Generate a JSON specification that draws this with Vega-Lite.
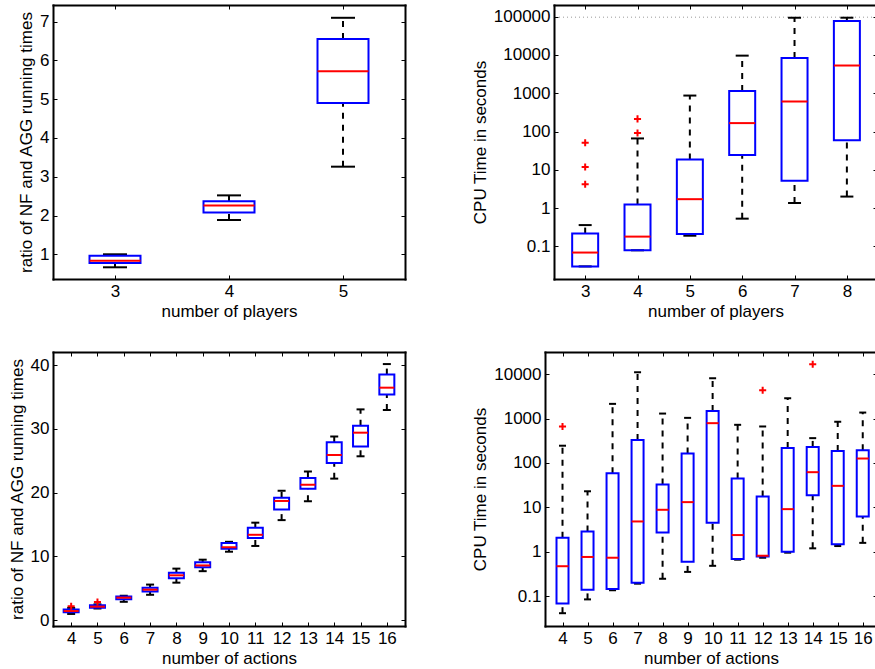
{
  "$schema": "https://vega.github.io/schema/vega-lite/v6.json",
  "padding": {"left": 8, "top": 4, "right": 0, "bottom": 0},
  "background": "white",
  "columns": 2,
  "spacing": {"row": 73, "column": 140},
  "bounds": "flush",
  "datasets": {
    "p1": [
      {"x": 3, "low": 0.665, "q1": 0.775, "med": 0.835, "q3": 0.96, "high": 1.0},
      {"x": 4, "low": 1.885, "q1": 2.08, "med": 2.26, "q3": 2.37, "high": 2.52},
      {"x": 5, "low": 3.26, "q1": 4.9, "med": 5.72, "q3": 6.55, "high": 7.1}
    ],
    "p2": [
      {"x": 3, "low": 0.030, "q1": 0.030, "med": 0.069, "q3": 0.216, "high": 0.36},
      {"x": 4, "low": 0.079, "q1": 0.079, "med": 0.18, "q3": 1.25, "high": 66},
      {"x": 5, "low": 0.19, "q1": 0.21, "med": 1.71, "q3": 18.6, "high": 870},
      {"x": 6, "low": 0.53, "q1": 24.5, "med": 166, "q3": 1150, "high": 9600},
      {"x": 7, "low": 1.35, "q1": 5.2, "med": 610, "q3": 8300, "high": 94000},
      {"x": 8, "low": 2.0, "q1": 59, "med": 5300, "q3": 77000, "high": 94000}
    ],
    "p2o": [
      {"x": 3, "v": 51}, {"x": 3, "v": 11.8}, {"x": 3, "v": 4.2},
      {"x": 4, "v": 214}, {"x": 4, "v": 92}
    ],
    "p2limit": [{"x0": 2.5, "x1": 8.48, "limit": 97000}],
    "p3": [
      {"x": 4, "low": 1.0, "q1": 1.25, "med": 1.45, "q3": 1.7, "high": 1.95},
      {"x": 5, "low": 1.85, "q1": 1.95, "med": 2.14, "q3": 2.35, "high": 2.5},
      {"x": 6, "low": 2.9, "q1": 3.3, "med": 3.55, "q3": 3.75, "high": 3.85},
      {"x": 7, "low": 4.0, "q1": 4.5, "med": 4.8, "q3": 5.1, "high": 5.6},
      {"x": 8, "low": 5.9, "q1": 6.6, "med": 7.05, "q3": 7.45, "high": 8.1},
      {"x": 9, "low": 7.7, "q1": 8.3, "med": 8.6, "q3": 9.1, "high": 9.5},
      {"x": 10, "low": 10.75, "q1": 11.2, "med": 11.45, "q3": 12.1, "high": 12.3},
      {"x": 11, "low": 11.65, "q1": 12.9, "med": 13.4, "q3": 14.5, "high": 15.3},
      {"x": 12, "low": 15.7, "q1": 17.35, "med": 18.7, "q3": 19.2, "high": 20.3},
      {"x": 13, "low": 18.65, "q1": 20.6, "med": 21.25, "q3": 22.3, "high": 23.3},
      {"x": 14, "low": 22.2, "q1": 24.65, "med": 25.9, "q3": 27.9, "high": 28.8},
      {"x": 15, "low": 25.7, "q1": 27.25, "med": 29.4, "q3": 30.5, "high": 33.05},
      {"x": 16, "low": 32.95, "q1": 35.4, "med": 36.45, "q3": 38.5, "high": 40.15}
    ],
    "p3o": [{"x": 4, "v": 2.2}, {"x": 5, "v": 2.87}],
    "p4": [
      {"x": 4, "low": 0.041, "q1": 0.068, "med": 0.47, "q3": 2.06, "high": 245},
      {"x": 5, "low": 0.084, "q1": 0.139, "med": 0.76, "q3": 2.86, "high": 23},
      {"x": 6, "low": 0.135, "q1": 0.144, "med": 0.73, "q3": 59, "high": 2150},
      {"x": 7, "low": 0.19, "q1": 0.2, "med": 4.8, "q3": 330, "high": 11100},
      {"x": 8, "low": 0.245, "q1": 2.7, "med": 8.8, "q3": 32.5, "high": 1300},
      {"x": 9, "low": 0.35, "q1": 0.59, "med": 13.1, "q3": 163, "high": 1040},
      {"x": 10, "low": 0.48, "q1": 4.47, "med": 790, "q3": 1490, "high": 8130},
      {"x": 11, "low": 0.66, "q1": 0.68, "med": 2.37, "q3": 44.6, "high": 725},
      {"x": 12, "low": 0.73, "q1": 0.78, "med": 0.81, "q3": 17.6, "high": 665},
      {"x": 13, "low": 0.95, "q1": 1.0, "med": 9.1, "q3": 218, "high": 2880},
      {"x": 14, "low": 1.19, "q1": 18.8, "med": 62, "q3": 230, "high": 363},
      {"x": 15, "low": 1.34, "q1": 1.48, "med": 30.5, "q3": 186, "high": 850},
      {"x": 16, "low": 1.58, "q1": 6.2, "med": 126, "q3": 194, "high": 1370}
    ],
    "p4o": [{"x": 4, "v": 665}, {"x": 12, "v": 4360}, {"x": 14, "v": 16800}]
  },
  "concat": [
    {
      "width": 352, "height": 274,
      "data": {"name": "p1"},
      "layer": [
        {"mark": {"type": "rule", "color": "black", "strokeWidth": 2, "strokeDash": [6, 6]},
         "encoding": {
           "x": {"field": "x", "type": "quantitative", "scale": {"domain": [2.5, 5.5], "nice": false, "zero": false},
                 "axis": {"orient": "bottom", "values": [3, 4, 5], "format": "d", "title": "number of players"}},
           "y": {"field": "low", "type": "quantitative", "scale": {"domain": [0.363, 7.43], "nice": false, "zero": false},
                 "axis": {"orient": "left", "values": [1, 2, 3, 4, 5, 6, 7], "format": "d", "title": "ratio of NF and AGG running times"}},
           "y2": {"field": "q1"}}},
        {"mark": {"type": "rule", "color": "black", "strokeWidth": 2, "strokeDash": [6, 6]},
         "encoding": {
           "x": {"field": "x", "type": "quantitative", "axis": {"orient": "top", "values": [3, 4, 5], "labels": false, "title": null}},
           "y": {"field": "q3", "type": "quantitative", "axis": {"orient": "right", "values": [1, 2, 3, 4, 5, 6, 7], "labels": false, "title": null}},
           "y2": {"field": "high"}}},
        {"mark": {"type": "tick", "orient": "horizontal", "color": "black", "thickness": 2, "size": 24, "opacity": 1},
         "encoding": {"x": {"field": "x", "type": "quantitative", "axis": null}, "y": {"field": "low", "type": "quantitative", "axis": null}}},
        {"mark": {"type": "tick", "orient": "horizontal", "color": "black", "thickness": 2, "size": 24, "opacity": 1},
         "encoding": {"x": {"field": "x", "type": "quantitative", "axis": null}, "y": {"field": "high", "type": "quantitative", "axis": null}}},
        {"mark": {"type": "bar", "filled": false, "color": "#0000ff", "strokeWidth": 2, "size": 51},
         "encoding": {"x": {"field": "x", "type": "quantitative", "axis": null}, "y": {"field": "q1", "type": "quantitative", "axis": null}, "y2": {"field": "q3"}}},
        {"mark": {"type": "tick", "orient": "horizontal", "color": "#ff0000", "thickness": 2, "size": 51, "opacity": 1},
         "encoding": {"x": {"field": "x", "type": "quantitative", "axis": null}, "y": {"field": "med", "type": "quantitative", "axis": null}}}
      ]
    },
    {
      "width": 332, "height": 274,
      "data": {"name": "p2"},
      "layer": [
        {"data": {"name": "p2limit"},
         "mark": {"type": "rule", "color": "#999999", "strokeWidth": 1, "strokeDash": [1, 3]},
         "encoding": {
           "x": {"field": "x0", "type": "quantitative", "axis": null},
           "x2": {"field": "x1"},
           "y": {"field": "limit", "type": "quantitative", "axis": null}}},
        {"mark": {"type": "rule", "color": "black", "strokeWidth": 2, "strokeDash": [6, 6]},
         "encoding": {
           "x": {"field": "x", "type": "quantitative", "scale": {"domain": [2.5, 8.48], "range": [9, 332], "nice": false, "zero": false},
                 "axis": {"orient": "bottom", "values": [3, 4, 5, 6, 7, 8], "format": "d", "title": "number of players"}},
           "y": {"field": "low", "type": "quantitative", "scale": {"type": "log", "domain": [0.01406, 201800], "nice": false},
                 "axis": {"orient": "left", "offset": -9, "values": [0.1, 1, 10, 100, 1000, 10000, 100000], "format": "~g", "title": "CPU Time in seconds"}},
           "y2": {"field": "q1"}}},
        {"mark": {"type": "rule", "color": "black", "strokeWidth": 2, "strokeDash": [6, 6]},
         "encoding": {
           "x": {"field": "x", "type": "quantitative", "axis": {"orient": "top", "values": [3, 4, 5, 6, 7, 8], "labels": false, "title": null}},
           "y": {"field": "q3", "type": "quantitative", "axis": {"orient": "right", "domain": false, "values": [0.1, 1, 10, 100, 1000, 10000, 100000], "labels": false, "title": null}},
           "y2": {"field": "high"}}},
        {"mark": {"type": "tick", "orient": "horizontal", "color": "black", "thickness": 2, "size": 13, "opacity": 1},
         "encoding": {"x": {"field": "x", "type": "quantitative", "axis": null}, "y": {"field": "low", "type": "quantitative", "axis": null}}},
        {"mark": {"type": "tick", "orient": "horizontal", "color": "black", "thickness": 2, "size": 13, "opacity": 1},
         "encoding": {"x": {"field": "x", "type": "quantitative", "axis": null}, "y": {"field": "high", "type": "quantitative", "axis": null}}},
        {"mark": {"type": "bar", "filled": false, "color": "#0000ff", "strokeWidth": 2, "size": 26},
         "encoding": {"x": {"field": "x", "type": "quantitative", "axis": null}, "y": {"field": "q1", "type": "quantitative", "axis": null}, "y2": {"field": "q3"}}},
        {"mark": {"type": "tick", "orient": "horizontal", "color": "#ff0000", "thickness": 2, "size": 26, "opacity": 1},
         "encoding": {"x": {"field": "x", "type": "quantitative", "axis": null}, "y": {"field": "med", "type": "quantitative", "axis": null}}},
        {"data": {"name": "p2o"},
         "mark": {"type": "point", "shape": "M-1,0H1M0,-1V1", "filled": false, "color": "#ff0000", "strokeWidth": 2, "size": 50, "opacity": 1},
         "encoding": {"x": {"field": "x", "type": "quantitative", "axis": null}, "y": {"field": "v", "type": "quantitative", "axis": null}}}
      ]
    },
    {
      "width": 352, "height": 274,
      "data": {"name": "p3"},
      "layer": [
        {"mark": {"type": "rule", "color": "black", "strokeWidth": 2, "strokeDash": [6, 6]},
         "encoding": {
           "x": {"field": "x", "type": "quantitative", "scale": {"domain": [3.5, 16.5], "nice": false, "zero": false},
                 "axis": {"orient": "bottom", "values": [4, 5, 6, 7, 8, 9, 10, 11, 12, 13, 14, 15, 16], "format": "d", "title": "number of actions"}},
           "y": {"field": "low", "type": "quantitative", "scale": {"domain": [-0.89, 42.04], "nice": false, "zero": false},
                 "axis": {"orient": "left", "values": [0, 10, 20, 30, 40], "format": "d", "title": "ratio of NF and AGG running times"}},
           "y2": {"field": "q1"}}},
        {"mark": {"type": "rule", "color": "black", "strokeWidth": 2, "strokeDash": [6, 6]},
         "encoding": {
           "x": {"field": "x", "type": "quantitative", "axis": {"orient": "top", "values": [4, 5, 6, 7, 8, 9, 10, 11, 12, 13, 14, 15, 16], "labels": false, "title": null}},
           "y": {"field": "q3", "type": "quantitative", "axis": {"orient": "right", "values": [0, 10, 20, 30, 40], "labels": false, "title": null}},
           "y2": {"field": "high"}}},
        {"mark": {"type": "tick", "orient": "horizontal", "color": "black", "thickness": 2, "size": 8, "opacity": 1},
         "encoding": {"x": {"field": "x", "type": "quantitative", "axis": null}, "y": {"field": "low", "type": "quantitative", "axis": null}}},
        {"mark": {"type": "tick", "orient": "horizontal", "color": "black", "thickness": 2, "size": 8, "opacity": 1},
         "encoding": {"x": {"field": "x", "type": "quantitative", "axis": null}, "y": {"field": "high", "type": "quantitative", "axis": null}}},
        {"mark": {"type": "bar", "filled": false, "color": "#0000ff", "strokeWidth": 2, "size": 15},
         "encoding": {"x": {"field": "x", "type": "quantitative", "axis": null}, "y": {"field": "q1", "type": "quantitative", "axis": null}, "y2": {"field": "q3"}}},
        {"mark": {"type": "tick", "orient": "horizontal", "color": "#ff0000", "thickness": 2, "size": 15, "opacity": 1},
         "encoding": {"x": {"field": "x", "type": "quantitative", "axis": null}, "y": {"field": "med", "type": "quantitative", "axis": null}}},
        {"data": {"name": "p3o"},
         "mark": {"type": "point", "shape": "M-1,0H1M0,-1V1", "filled": false, "color": "#ff0000", "strokeWidth": 2, "size": 50, "opacity": 1},
         "encoding": {"x": {"field": "x", "type": "quantitative", "axis": null}, "y": {"field": "v", "type": "quantitative", "axis": null}}}
      ]
    },
    {
      "width": 332, "height": 274,
      "data": {"name": "p4"},
      "layer": [
        {"mark": {"type": "rule", "color": "black", "strokeWidth": 2, "strokeDash": [6, 6]},
         "encoding": {
           "x": {"field": "x", "type": "quantitative", "scale": {"domain": [3.5, 16.37], "nice": false, "zero": false},
                 "axis": {"orient": "bottom", "values": [4, 5, 6, 7, 8, 9, 10, 11, 12, 13, 14, 15, 16], "format": "d", "title": "number of actions"}},
           "y": {"field": "low", "type": "quantitative", "scale": {"type": "log", "domain": [0.0211, 31770], "nice": false},
                 "axis": {"orient": "left", "values": [0.1, 1, 10, 100, 1000, 10000], "format": "~g", "title": "CPU Time in seconds"}},
           "y2": {"field": "q1"}}},
        {"mark": {"type": "rule", "color": "black", "strokeWidth": 2, "strokeDash": [6, 6]},
         "encoding": {
           "x": {"field": "x", "type": "quantitative", "axis": {"orient": "top", "values": [4, 5, 6, 7, 8, 9, 10, 11, 12, 13, 14, 15, 16], "labels": false, "title": null}},
           "y": {"field": "q3", "type": "quantitative", "axis": {"orient": "right", "domain": false, "values": [0.1, 1, 10, 100, 1000, 10000], "labels": false, "title": null}},
           "y2": {"field": "high"}}},
        {"mark": {"type": "tick", "orient": "horizontal", "color": "black", "thickness": 2, "size": 7, "opacity": 1},
         "encoding": {"x": {"field": "x", "type": "quantitative", "axis": null}, "y": {"field": "low", "type": "quantitative", "axis": null}}},
        {"mark": {"type": "tick", "orient": "horizontal", "color": "black", "thickness": 2, "size": 7, "opacity": 1},
         "encoding": {"x": {"field": "x", "type": "quantitative", "axis": null}, "y": {"field": "high", "type": "quantitative", "axis": null}}},
        {"mark": {"type": "bar", "filled": false, "color": "#0000ff", "strokeWidth": 2, "size": 12},
         "encoding": {"x": {"field": "x", "type": "quantitative", "axis": null}, "y": {"field": "q1", "type": "quantitative", "axis": null}, "y2": {"field": "q3"}}},
        {"mark": {"type": "tick", "orient": "horizontal", "color": "#ff0000", "thickness": 2, "size": 12, "opacity": 1},
         "encoding": {"x": {"field": "x", "type": "quantitative", "axis": null}, "y": {"field": "med", "type": "quantitative", "axis": null}}},
        {"data": {"name": "p4o"},
         "mark": {"type": "point", "shape": "M-1,0H1M0,-1V1", "filled": false, "color": "#ff0000", "strokeWidth": 2, "size": 50, "opacity": 1},
         "encoding": {"x": {"field": "x", "type": "quantitative", "axis": null}, "y": {"field": "v", "type": "quantitative", "axis": null}}}
      ]
    }
  ],
  "config": {
    "view": {"stroke": null},
    "axis": {
      "grid": false,
      "domainColor": "black", "domainWidth": 2, "domainCap": "square",
      "tickColor": "black", "tickSize": -4, "tickWidth": 1,
      "labelFont": "Liberation Sans", "labelFontSize": 17, "labelColor": "black", "labelPadding": 8,
      "titleFont": "Liberation Sans", "titleFontSize": 17, "titleFontWeight": "normal", "titleColor": "black"
    }
  }
}
